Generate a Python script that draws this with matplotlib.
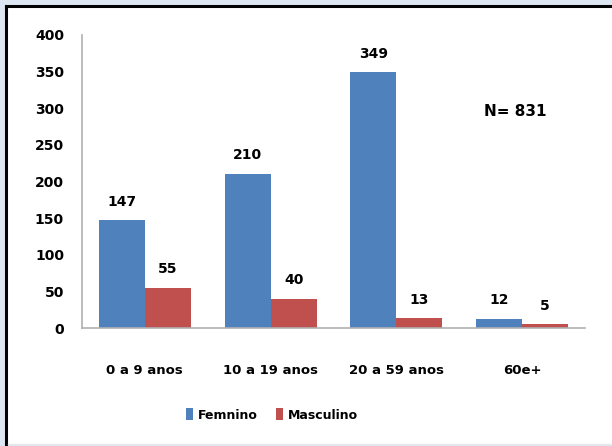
import numpy as np
import matplotlib
matplotlib.use("Agg")
import matplotlib.pyplot as plt
from matplotlib.patches import Rectangle
from matplotlib.lines import Line2D

categories = ["0 a 9 anos", "10 a 19 anos", "20 a 59 anos", "60e+"]
feminino = [147, 210, 349, 12]
masculino = [55, 40, 13, 5]
yticks = [0, 50, 100, 150, 200, 250, 300, 350, 400]

plt.rcParams["font.family"] = "DejaVu Sans"
plt.rcParams["font.weight"] = "bold"

W, H = 612, 446
fig = plt.figure(figsize=(W / 100, H / 100), dpi=100)
fig.patch.set_facecolor("#dce6f2")

# white panel with black top/left frame
fig.add_artist(Rectangle((7 / W, 2 / H), 1, 1 - 8 / H, transform=fig.transFigure,
                         facecolor="white", edgecolor="none", zorder=0))
fig.add_artist(Line2D([6 / W, 1], [1 - 6 / H, 1 - 6 / H], transform=fig.transFigure,
                      color="black", lw=2.2, zorder=1))
fig.add_artist(Line2D([6 / W, 6 / W], [0, 1 - 6 / H], transform=fig.transFigure,
                      color="black", lw=2.2, zorder=1))
fig.add_artist(Line2D([8 / W, 1], [2 / H, 2 / H], transform=fig.transFigure,
                      color="#e8e8e8", lw=1, zorder=1))

ax = fig.add_axes([82 / W, 1 - 328 / H, (585 - 82) / W, (328 - 35) / H])
ax.set_facecolor("none")

x = np.arange(len(categories))
w = 0.365
bf = ax.bar(x - w / 2, feminino, w, color="#4f81bd", label="Femnino", zorder=2)
bm = ax.bar(x + w / 2, masculino, w, color="#c0504d", label="Masculino", zorder=2)

for bars, vals in ((bf, feminino), (bm, masculino)):
    for b, v in zip(bars, vals):
        ax.text(b.get_x() + b.get_width() / 2, v + 16, str(v), ha="center", va="bottom",
                fontsize=10, fontweight="bold")

ax.set_xlim(-0.5, len(categories) - 0.5)
ax.set_ylim(0, 400)
ax.set_yticks(yticks)
ax.set_xticks(x)
ax.set_xticklabels(categories, fontsize=9.5, fontweight="bold")
ax.tick_params(axis="x", length=0, pad=26)
ax.tick_params(axis="y", length=0, pad=13, labelsize=10)
for lbl in ax.get_yticklabels():
    lbl.set_fontweight("bold")

for s in ("top", "right"):
    ax.spines[s].set_visible(False)
ax.spines["left"].set_color("#b0b0b0")
ax.spines["bottom"].set_color("#b0b0b0")
ax.spines["left"].set_linewidth(1.2)
ax.spines["bottom"].set_linewidth(1.2)

fig.text(515 / W, 1 - 111 / H, "N= 831", ha="center", va="center",
         fontsize=11, fontweight="bold")

fig.legend(handles=[bf, bm], loc="center", bbox_to_anchor=(272 / W, 1 - 415 / H),
           ncol=2, frameon=False, handlelength=0.6, handleheight=1.1,
           columnspacing=1.4, handletextpad=0.4, prop={"weight": "bold", "size": 9})

fig.savefig("out.png", dpi=100, facecolor=fig.get_facecolor())
